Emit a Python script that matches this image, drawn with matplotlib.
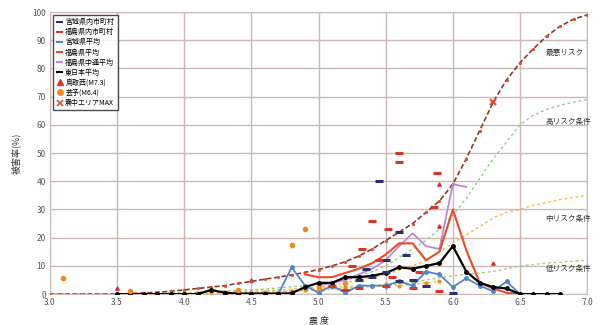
import matplotlib
matplotlib.use("Agg")
import matplotlib.pyplot as plt
from matplotlib.lines import Line2D

plt.rcParams['font.family'] = ['Noto Sans CJK JP', 'DejaVu Sans']

# ---- risk curves (intensity, damage rate %) ----
curve_x = [3.0, 3.5, 3.6, 3.7, 3.8, 3.9, 4.0, 4.1, 4.2, 4.3, 4.4, 4.5, 4.6, 4.7, 4.8, 4.9,
           5.0, 5.1, 5.2, 5.3, 5.4, 5.5, 5.6, 5.7, 5.8, 5.9, 6.0, 6.1, 6.2, 6.3, 6.4, 6.5,
           6.6, 6.7, 6.8, 6.9, 7.0]
worst_risk = [0, 0, 0.2, 0.4, 0.7, 1.0, 1.5, 2, 2.5, 3, 3.8, 4.5, 5.3, 6, 6.8, 7.7,
              8.7, 10, 11.5, 13.5, 16, 19, 22, 25, 29, 33, 39, 48, 58, 68, 76, 82,
              87, 91.5, 95, 97.5, 99]
high_risk = [0, 0, 0.1, 0.2, 0.3, 0.4, 0.5, 0.7, 0.9, 1.1, 1.3, 1.5, 1.8, 2.2, 2.6, 3.0,
             3.5, 4.2, 5, 6.3, 8, 10, 13, 16, 19, 23, 28, 34, 41, 48, 54, 60,
             63.5, 65.5, 67, 68, 69]
mid_risk = [0, 0, 0, 0.1, 0.1, 0.2, 0.3, 0.4, 0.5, 0.6, 0.8, 1.0, 1.2, 1.5, 1.8, 2.1,
            2.5, 3.2, 4, 5, 6, 7, 8.5, 10, 12, 15, 18, 21, 24, 27, 29, 30,
            31.5, 32.5, 33.5, 34.3, 35]
low_risk = [0, 0, 0, 0, 0, 0, 0, 0.1, 0.2, 0.3, 0.4, 0.5, 0.7, 0.9, 1.1, 1.3,
            1.5, 1.8, 2.1, 2.4, 2.7, 3, 3.6, 4.2, 5, 5.8, 6.5, 7, 7.5, 8, 9, 10,
            10.5, 11, 11.3, 11.7, 12]
curve_labels = ['最悪リスク', '高リスク条件', '中リスク条件', '低リスク条件']

# ---- averages ----
east_x = [3.5, 3.6, 3.7, 3.8, 3.9, 4.0, 4.1, 4.2, 4.3, 4.4, 4.5, 4.6, 4.7, 4.8, 4.9,
          5.0, 5.1, 5.2, 5.3, 5.4, 5.5, 5.6, 5.7, 5.8, 5.9, 6.0, 6.1, 6.2, 6.3, 6.4,
          6.5, 6.6, 6.7, 6.8]
east_avg = [0, 0, 0, 0, 0, 0, 0, 1.5, 0.5, 0.2, 0.2, 0.2, 0.2, 0.3, 2.5,
            4, 4, 6, 6, 6.5, 7.5, 9.5, 9, 10, 11, 17, 8, 4, 2.5, 2,
            0, 0, 0, 0]

miyagi_x = [4.7, 4.8, 4.9, 5.0, 5.1, 5.2, 5.3, 5.4, 5.5, 5.6, 5.7, 5.8, 5.9, 6.0,
            6.1, 6.2, 6.3, 6.4, 6.5]
miyagi_avg = [0, 9.5, 3, 0.5, 3, 0.5, 3, 3, 3, 4.5, 3, 8, 7, 2.5,
              5.6, 3, 1, 4.5, 0]

fuku_x = [4.9, 5.0, 5.1, 5.2, 5.3, 5.4, 5.5, 5.6, 5.7, 5.8, 5.9, 6.0, 6.1, 6.2, 6.3, 6.4, 6.5]
fuku_avg = [7, 6, 6, 7.5, 9, 11, 14, 18, 18, 12, 15, 30, 15.6, 4, 2, 0.5, 0]

naka_x = [5.0, 5.1, 5.2, 5.3, 5.4, 5.5, 5.6, 5.7, 5.8, 5.9, 6.0, 6.1]
naka_avg = [3, 4, 5, 7, 9, 12, 17, 21.6, 17, 16, 39, 38]

geiyo_line_x = [4.0, 4.1, 4.2, 4.3, 4.4, 4.5, 4.6, 4.7, 4.8, 4.9, 5.0, 5.1, 5.2, 5.3,
                5.4, 5.5, 5.6, 5.7, 5.8, 5.9]
geiyo_line = [0.3, 0.5, 0.8, 0.6, 0.5, 0.7, 0.8, 0.8, 1.0, 1.5, 2.0, 2.5, 2.5, 3.0,
              3.0, 3.5, 3.0, 3.5, 4.0, 4.5]

# ---- municipality scatter ----
miyagi_muni_x = [5.45, 5.6, 5.3, 5.4, 5.5, 5.6, 5.7, 5.8, 5.5, 6.0, 5.35, 5.65]
miyagi_muni_y = [40, 22, 5, 6, 8, 4.5, 5, 3, 12, 0.5, 9, 14]
fuku_muni_x = [5.6, 5.6, 5.4, 5.52, 5.32, 5.88, 5.86, 5.25, 5.45, 5.1, 5.2, 5.3,
               5.5, 5.7, 5.9, 5.55, 5.75]
fuku_muni_y = [50, 47, 26, 23, 16, 43, 31, 10, 12, 3, 1.5, 2, 3, 2, 1, 6, 8]

tottori_x = [3.5, 4.5, 5.9, 6.3, 5.9]
tottori_y = [2, 5, 39, 11, 24]
geiyo_x = [3.1, 4.8, 4.9, 3.6, 4.4, 5.0, 5.2]
geiyo_y = [5.7, 17.5, 23, 1, 1.5, 2, 4]
max_x = [6.3]
max_y = [68]

fig = plt.figure(figsize=(6.01, 3.25), dpi=100)
ax = fig.add_axes([0.083, 0.095, 0.894, 0.868])

grid_c = '#cbbab3'
ax.set_xlim(3.0, 7.0)
ax.set_ylim(0, 100)
ax.set_xticks([3.0, 3.5, 4.0, 4.5, 5.0, 5.5, 6.0, 6.5, 7.0])
ax.set_xticklabels(['3.0', '3.5', '4.0', '4.5', '5.0', '5.5', '6.0', '6.5', '7.0'])
ax.set_yticks(range(0, 101, 10))
ax.grid(True, color=grid_c, linewidth=1.0)
ax.set_axisbelow(True)
for s in ax.spines.values():
    s.set_color(grid_c)
ax.tick_params(labelsize=6, colors='#555555', length=0, pad=3)

# risk curves
ax.plot(curve_x, low_risk, color='#9fd27a', linestyle=(0, (2, 2)), linewidth=1.0, zorder=2)
ax.plot(curve_x, mid_risk, color='#f7b84a', linestyle=(0, (2, 2)), linewidth=1.0, zorder=2)
ax.plot(curve_x, high_risk, color='#8fcf8f', linestyle=(0, (2, 2)), linewidth=1.0, zorder=2)
ax.plot(curve_x, worst_risk, color='#8b3a2a', linestyle=(0, (3, 1.5)), linewidth=1.2,
        marker='.', markersize=2.5, markerfacecolor='#e04a30', markeredgecolor='#e04a30', zorder=3)
ax.plot(geiyo_line_x, geiyo_line, color='#f0c040', linestyle=(0, (2, 2)), linewidth=1.0,
        marker='o', markersize=2, markerfacecolor='#f08a1c', markeredgecolor='#f08a1c', zorder=3)

# averages
ax.plot(naka_x, naka_avg, color='#b98ad6', linewidth=1.3, zorder=4)
ax.plot(miyagi_x, miyagi_avg, color='#5285c8', linewidth=1.3, marker='o', markersize=2.5, zorder=4)
ax.plot(fuku_x, fuku_avg, color='#ea4c2a', linewidth=1.5, zorder=4)
ax.plot(east_x, east_avg, color='black', linewidth=1.6, marker='o', markersize=2.5, zorder=5)

# scatter
ax.plot(miyagi_muni_x, miyagi_muni_y, linestyle='none', marker='_', markersize=6,
        markeredgewidth=2.2, color='#2b2f6b', zorder=6)
ax.plot(fuku_muni_x, fuku_muni_y, linestyle='none', marker='_', markersize=6,
        markeredgewidth=2.2, color='#d9342b', zorder=6)
ax.plot(tottori_x, tottori_y, linestyle='none', marker='^', markersize=2.5,
        color='#e0303a', zorder=6)
ax.plot(geiyo_x, geiyo_y, linestyle='none', marker='o', markersize=3,
        color='#f08a1c', zorder=6)
ax.plot(max_x, max_y, linestyle='none', marker='x', markersize=5, markeredgewidth=1.5,
        color='#ea4c2a', zorder=7)

# curve labels
label_pos = [(6.69, 85.5), (6.69, 61), (6.69, 26.5), (6.69, 9)]
for (lx, ly), t in zip(label_pos, curve_labels):
    ax.text(lx, ly, t, fontsize=5.5, color='#333333', va='center', ha='left', zorder=8)

ax.set_xlabel('震 度', fontsize=6.5, color='#333333', labelpad=6)
ax.set_ylabel('被害率(%)', fontsize=6.5, color='#333333', labelpad=8)

handles = [
    Line2D([], [], color='#2b2f6b', linewidth=1.5),
    Line2D([], [], color='#d9342b', linewidth=1.5),
    Line2D([], [], color='#5285c8', linewidth=1.5),
    Line2D([], [], color='#ea4c2a', linewidth=1.5),
    Line2D([], [], color='#b98ad6', linewidth=1.5),
    Line2D([], [], color='black', linewidth=1.5),
    Line2D([], [], color='#e0303a', marker='^', linestyle='none', markersize=4),
    Line2D([], [], color='#f08a1c', marker='o', linestyle='none', markersize=4),
    Line2D([], [], color='#ea4c2a', marker='x', linestyle='none', markersize=4, markeredgewidth=1.2),
]
labels = ['宮城県内市町村', '福島県内市町村', '宮城県平均', '福島県平均', '福島県中通平均',
          '東日本平均', '鳥取西(M7.3)', '芸予(M6.4)', '震中エリアMAX']
leg = ax.legend(handles, labels, loc='upper left', bbox_to_anchor=(0.004, 0.995),
                fontsize=5, handlelength=0.8, handletextpad=0.4, labelspacing=0.3,
                borderpad=0.5, borderaxespad=0.2, frameon=True, fancybox=False)
leg.get_frame().set_edgecolor('#222222')
leg.get_frame().set_linewidth(1.0)
leg.set_zorder(10)

fig.savefig('out.png', dpi=100)
